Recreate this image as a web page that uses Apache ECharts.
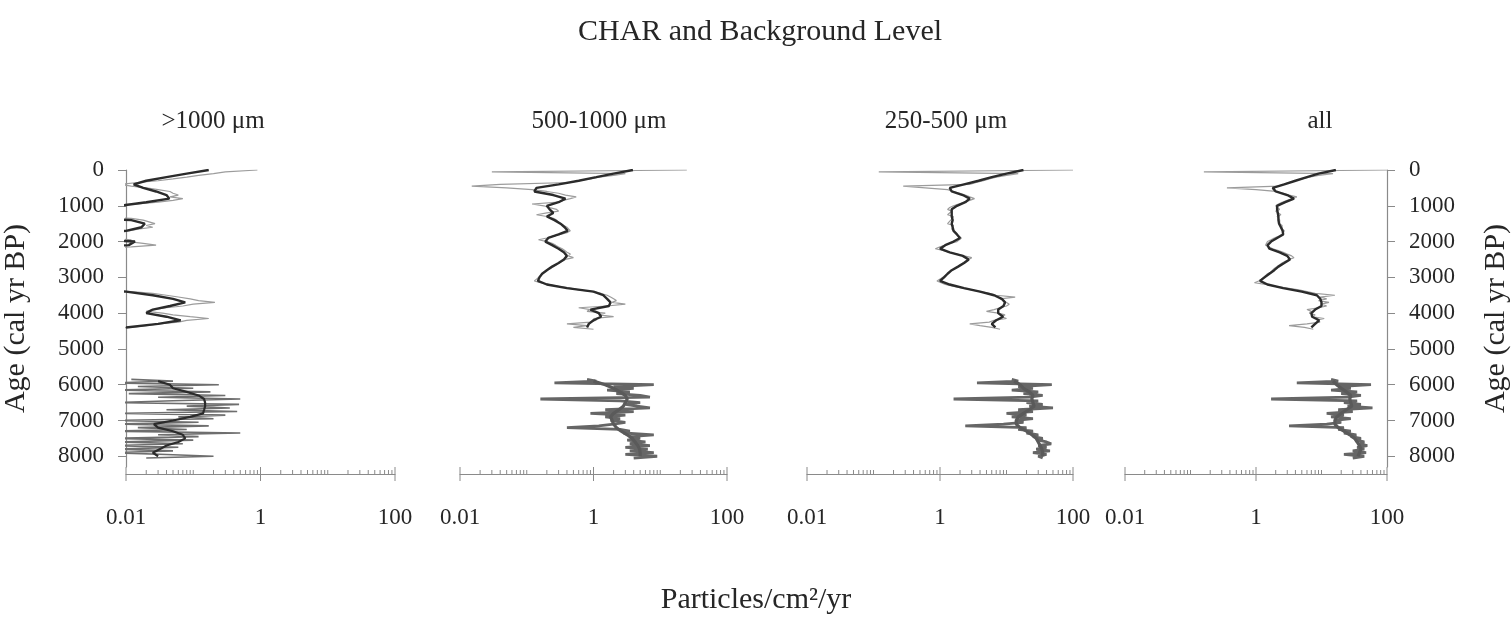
<!DOCTYPE html>
<html><head><meta charset="utf-8">
<script src="https://cdn.jsdelivr.net/npm/echarts@6/dist/echarts.min.js"></script>
<style>html,body{margin:0;padding:0;background:#fff}#c{width:1512px;height:629px}</style>
</head><body><div id="c"></div><script>
// ---- data ----
const charAgeTop = [0,50,100,150,200,250,300,350,400,450,500,550,600,650,700,750,800,850,900,950,
1000,1050,1100,1150,1200,1250,1300,1350,1400,1450,1500,1550,1600,1650,1700,1750,1800,1850,1900,1950,
2000,2050,2100,2150,2200,2250,2300,2350,2400,2450,2500,2550,2600,2650,2700,2750,2800,2850,2900,2950,
3000,3050,3100,3150,3200,3250,3300,3350,3400,3450,3500,3550,3600,3650,3700,3750,3800,3850,3900,3950,
4000,4050,4100,4150,4200,4250,4300,4350,4400,4450];
const charAgeBot = [5850,5900,5950,6000,6050,6100,6150,6200,6250,6300,6350,6400,6450,6500,6550,6600,6650,6700,6750,6800,
6850,6900,6950,7000,7050,7100,7150,7200,7250,7300,7350,7400,7450,7500,7550,7600,7650,7700,7750,7800,
7850,7900,7950,8000,8050];
const bgAgeTop = [0,100,200,300,400,500,600,700,800,900,1000,1100,1200,1300,1400,1500,1600,1700,1800,1900,
2000,2100,2200,2300,2400,2500,2600,2700,2800,2900,3000,3100,3200,3300,3400,3500,3600,3700,3800,3900,
4000,4100,4200,4300,4400];
const bgAgeBot = [5900,6000,6100,6200,6300,6400,6500,6600,6700,6800,6900,7000,7100,7200,7300,7400,7500,7600,7700,7800,7900,8000];

// >1000 um (0.001 = zero, below axis)
const p1CharTop = [0.9,0.3,0.2,0.12,0.08,0.05,0.03,0.015,0.008,0.012,
0.02,0.03,0.045,0.05,0.06,0.045,0.07,0.05,0.03,0.015,
0.001,0.001,0.001,0.001,0.001,0.001,0.001,0.012,0.018,0.022,
0.027,0.02,0.025,0.015,0.011,0.001,0.001,0.001,0.001,0.012,
0.011,0.018,0.028,0.012,0.001,0.001,0.001,0.001,0.001,0.001,
0.001,0.001,0.001,0.001,0.001,0.001,0.001,0.001,0.001,0.001,
0.001,0.001,0.001,0.001,0.001,0.001,0.001,0.001,0.012,0.025,
0.04,0.06,0.09,0.12,0.21,0.1,0.07,0.04,0.025,0.02,
0.035,0.05,0.09,0.17,0.08,0.06,0.03,0.02,0.012,0.001];
const p1CharBot = [0.012,0.05,0.006,0.24,0.015,0.1,0.007,0.18,0.011,0.3,
0.03,0.5,0.05,0.006,0.48,0.08,0.35,0.04,0.45,0.008,
0.3,0.06,0.2,0.006,0.12,0.007,0.17,0.015,0.08,0.006,
0.5,0.03,0.12,0.006,0.1,0.008,0.07,0.006,0.06,0.007,
0.05,0.006,0.04,0.2,0.02];
const p1BgTop = [0.17,0.08,0.04,0.02,0.013,0.018,0.028,0.04,0.044,0.02,
0.008,0.001,0.001,0.001,0.012,0.019,0.017,0.01,0.001,0.001,
0.0136,0.011,0.001,0.001,0.001,0.001,0.001,0.001,0.001,0.001,
0.001,0.001,0.001,0.001,0.01,0.025,0.05,0.076,0.045,0.025,
0.02,0.04,0.065,0.03,0.01];
const p1BgBot = [0.03,0.045,0.05,0.08,0.12,0.145,0.15,0.15,0.145,0.14,0.09,0.05,0.026,0.03,0.05,0.07,0.076,0.06,0.04,0.032,0.025,0.03];

// 500-1000 um
const p2CharTop = [25,0.03,3.0,2.0,1.2,0.9,0.6,0.45,0.04,0.015,
0.05,0.12,0.2,0.3,0.38,0.55,0.45,0.35,0.3,0.12,
0.18,0.22,0.28,0.3,0.2,0.14,0.2,0.25,0.28,0.3,
0.33,0.36,0.4,0.42,0.45,0.4,0.32,0.25,0.2,0.15,
0.2,0.24,0.27,0.3,0.34,0.37,0.4,0.45,0.42,0.5,
0.38,0.34,0.3,0.28,0.25,0.23,0.2,0.19,0.17,0.16,
0.15,0.14,0.13,0.16,0.22,0.3,0.45,0.6,1.0,1.3,
1.6,1.8,2.0,2.2,1.9,3.0,1.6,0.6,0.9,0.8,
1.5,1.2,2.0,1.0,1.1,0.9,0.4,0.8,0.5,1.0];
const p2CharBot = [0.8,1.1,0.26,8.0,2.0,4.0,1.6,3.5,2.2,5.0,
7.0,0.16,2.5,5.0,3.0,4.5,7.0,1.5,4.0,0.9,
3.0,1.5,2.5,1.8,3.0,2.0,1.2,0.4,2.5,3.5,
2.8,8.0,3.5,5.0,3.2,6.0,3.5,7.0,3.0,6.5,
3.5,8.0,3.0,9.0,4.0];
const p2BgTop = [3.9,2.0,1.1,0.6,0.3,0.14,0.13,0.25,0.38,0.3,
0.2,0.22,0.25,0.2,0.26,0.32,0.37,0.41,0.3,0.21,
0.19,0.24,0.3,0.36,0.4,0.36,0.3,0.24,0.2,0.17,
0.155,0.147,0.2,0.4,1.0,1.4,1.6,1.8,1.7,0.9,
1.2,1.3,1.0,0.85,0.8];
const p2BgBot = [1.0,1.5,2.0,2.5,3.0,3.2,3.0,2.8,2.4,2.0,1.8,1.9,2.0,2.2,2.6,3.2,3.8,4.2,4.6,4.9,5.0,5.0];

// 250-500 um
const p3CharTop = [100,0.12,15,10,7,5.5,4.5,3.5,2.8,0.28,
0.6,1.3,1.6,2.0,2.4,2.8,3.3,2.8,2.3,1.9,
1.6,1.4,1.3,1.5,1.4,1.3,1.6,1.5,1.45,1.5,
1.3,1.6,1.55,1.5,1.6,1.7,1.8,1.9,2.1,2.2,
1.8,1.4,1.2,1.0,0.85,1.1,1.4,1.8,2.3,3.0,
2.7,2.5,2.2,2.0,1.85,1.7,1.5,1.4,1.3,1.2,
1.1,1.0,0.9,0.84,1.2,1.6,2.2,3.0,4.0,5.5,
7.0,13.5,8.0,9.0,9.5,11,10,8.0,6.5,5.0,
7.5,9.5,8.5,10,6.5,5.5,2.8,4.0,6.0,8.0];
const p3CharBot = [12,15,3.6,48,15,25,12,30,18,35,
22,1.6,30,20,35,22,50,15,25,10,
20,12,25,14,18,9,2.4,20,15,25,
20,30,25,35,30,40,47,30,40,28,
45,25,40,30,35];
const p3BgTop = [18,10,6,3.8,2.3,1.4,1.5,2.2,2.8,2.4,
1.8,1.5,1.5,1.5,1.55,1.5,1.55,1.6,1.8,2.0,
1.6,1.2,1.0,1.4,2.2,2.7,2.3,1.87,1.5,1.3,
1.15,1.0,1.4,2.3,4.0,6.5,8.5,9.5,9.0,7.5,
7.5,8.9,7.0,6.0,6.8];
const p3BgBot = [13,16,18,22,25,24,25,26,22,18,15,14,14,16,20,24,28,30,32,34,35,35];

// all
const p4CharTop = [100,0.16,15,9,6.5,5,4,3.2,2.6,2.2,
0.36,1.0,2.0,2.6,3.2,4.2,3.6,3.0,2.5,2.2,
2.0,2.1,2.3,2.0,2.2,2.4,2.1,2.2,2.3,2.2,
2.3,2.5,2.6,2.5,2.7,2.8,2.5,2.2,1.9,1.7,
1.5,1.45,1.4,1.5,1.8,2.2,2.6,3.0,3.5,3.8,
3.2,2.8,2.5,2.3,2.1,1.9,1.8,1.7,1.5,1.4,
1.3,1.2,1.1,0.95,1.4,2.0,3.0,4.5,6.0,8.0,
16,9.5,12,9,13,10,12,9,6,7,
6.5,8,7,11,8.5,9.5,6,3.2,5.5,7.5];
const p4CharBot = [14,18,4.2,57,18,28,14,35,20,40,
25,1.7,35,22,40,25,60,18,30,12,
22,14,28,16,20,12,3.2,22,18,28,
22,34,28,40,34,45,38,50,35,45,
30,48,22,45,30];
const p4BgTop = [16.6,9,6,4,2.7,1.8,2.0,3.0,3.8,2.8,
2.1,2.1,2.15,2.2,2.2,2.25,2.4,2.55,2.6,2.1,
1.7,1.5,1.6,2.3,3.0,3.3,2.7,2.2,1.9,1.6,
1.35,1.15,1.5,2.6,5.0,8.5,9.6,10,10,8,
7,7.2,9.2,8,7];
const p4BgBot = [15,17,20,24,28,27,28,29,24,20,17,16,16,18,22,27,32,35,38,40,38,36];

const panelTitles = ['>1000 \u03bcm', '500-1000 \u03bcm', '250-500 \u03bcm', 'all'];
const xLabelVals = [0.01, 1, 100];
const xTickLabels = ['0.01', '1', '100'];
const xTickVals = [0.01,0.02,0.03,0.04,0.05,0.06,0.07,0.08,0.09,0.1,0.2,0.3,0.4,0.5,0.6,0.7,0.8,0.9,
1,2,3,4,5,6,7,8,9,10,20,30,40,50,60,70,80,90,100];
const yTickVals = [0,1000,2000,3000,4000,5000,6000,7000,8000];
const yMax = 8300;

// ---- chart ----
const SERIF = "'Liberation Serif','Times New Roman',serif";
const TXT = '#262626';
const AX = '#8a8a8a';
const panels = [
  {charTop:p1CharTop, charBot:p1CharBot, bgTop:p1BgTop, bgBot:p1BgBot},
  {charTop:p2CharTop, charBot:p2CharBot, bgTop:p2BgTop, bgBot:p2BgBot},
  {charTop:p3CharTop, charBot:p3CharBot, bgTop:p3BgTop, bgBot:p3BgBot},
  {charTop:p4CharTop, charBot:p4CharBot, bgTop:p4BgTop, bgBot:p4BgBot}
];
const gridPos = [{left:123,width:272},{left:460,width:267},{left:807,width:266},{left:1125,width:271}];
const titleX = [213, 599, 946, 1320];
const zip = (vals, ages) => vals.map((v, i) => [v, ages[i]]);
const isLabelVal = v => xLabelVals.some(m => Math.abs(Math.log10(m) - Math.log10(v)) < 1e-6);

const grid = [], xAxis = [], yAxis = [], series = [];
panels.forEach((p, i) => {
  grid.push({left: gridPos[i].left, width: gridPos[i].width, top: 170, height: 297});
  xAxis.push({
    type: 'log', logBase: 10, min: 0.01, max: 100, gridIndex: i, offset: 7, position: 'bottom',
    axisLine: {show: true, onZero: false, lineStyle: {color: AX, width: 1.2}},
    axisTick: {show: false}, minorTick: {show: false}, splitLine: {show: false},
    axisLabel: {
      margin: 32, fontFamily: SERIF, fontSize: 23, color: TXT,
      formatter: v => { const k = xLabelVals.findIndex(m => Math.abs(Math.log10(m) - Math.log10(v)) < 1e-6); return k >= 0 ? xTickLabels[k] : ''; }
    }
  });
  const showY = (i === 0 || i === 3);
  yAxis.push({
    type: 'value', gridIndex: i, inverse: true, min: 0, max: yMax, interval: 1000,
    show: showY, position: i === 3 ? 'right' : 'left',
    axisLine: {show: true, onZero: false, lineStyle: {color: AX, width: 1.2}},
    axisTick: {show: true, length: 8, lineStyle: {color: AX}, customValues: yTickVals},
    axisLabel: {margin: 22, fontFamily: SERIF, fontSize: 23, color: TXT, customValues: yTickVals,
                formatter: v => String(v)},
    splitLine: {show: false},
    name: 'Age (cal yr BP)', nameLocation: 'middle', nameRotate: 90, nameGap: i === 3 ? 94 : 95,
    nameTextStyle: {fontFamily: SERIF, fontSize: 30, color: TXT}
  });
  const lower = i === 0
    ? {c: {color: '#6e6e6e', width: 1.6}, b: {color: '#2b2b2b', width: 2.2}}
    : {c: {color: '#666666', width: 2.8}, b: {color: '#5a5a5a', width: 3.2}};
  const base = {type: 'line', xAxisIndex: i, yAxisIndex: i, symbol: 'none', showSymbol: false, animation: false, clip: true, silent: true};
  series.push(Object.assign({}, base, {name: 'CHAR', data: zip(p.charTop, charAgeTop), lineStyle: {color: '#9c9c9c', width: 1.2}, z: 2}));
  series.push(Object.assign({}, base, {name: 'Background', data: zip(p.bgTop, bgAgeTop), lineStyle: {color: '#2b2b2b', width: 2.4}, z: 3}));
  series.push(Object.assign({}, base, {name: 'CHAR', data: zip(p.charBot, charAgeBot), lineStyle: lower.c, z: 2}));
  series.push(Object.assign({}, base, {name: 'Background', data: zip(p.bgBot, bgAgeBot), lineStyle: lower.b, z: 3}));
  series.push({
    type: 'custom', xAxisIndex: i, yAxisIndex: i, silent: true, animation: false, clip: false,
    data: xTickVals.map(v => [v, yMax]),
    renderItem: (params, api) => {
      const v = api.value(0);
      const pt = api.coord([v, yMax]);
      const major = isLabelVal(v);
      const y0 = pt[1] + 7;
      return {type: 'line', shape: {x1: pt[0], y1: y0 - (major ? 7 : 4), x2: pt[0], y2: y0 + (major ? 7 : 0)},
              style: {stroke: AX, lineWidth: 1}};
    }
  });
});

const graphic = [
  {type: 'text', x: 760, y: 32, style: {text: 'CHAR and Background Level', fontFamily: SERIF, fontSize: 30, fill: TXT, align: 'center', verticalAlign: 'middle'}},
  {type: 'text', x: 756, y: 600, style: {text: 'Particles/cm\u00b2/yr', fontFamily: SERIF, fontSize: 30, fill: TXT, align: 'center', verticalAlign: 'middle'}}
].concat(panelTitles.map((t, i) => ({type: 'text', x: titleX[i], y: 121,
  style: {text: t, fontFamily: SERIF, fontSize: 25, fill: TXT, align: 'center', verticalAlign: 'middle'}})));

const chart = echarts.init(document.getElementById('c'), null, {renderer: 'canvas'});
chart.setOption({backgroundColor: '#fff', animation: false, grid, xAxis, yAxis, series, graphic});
</script></body></html>
